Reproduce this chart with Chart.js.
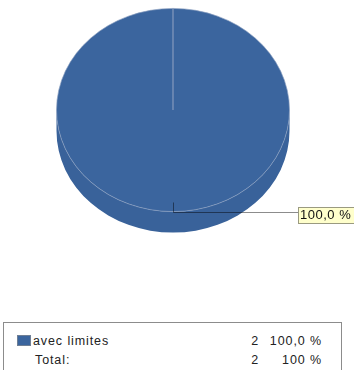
<!DOCTYPE html>
<html lang="fr">
<head>
  <meta charset="UTF-8">
  <title>avec limites</title>
  <script src="https://cdn.jsdelivr.net/npm/chart.js"></script>
  <style>
    body {
      margin: 0;
      background: #ffffff;
      font-family: "Liberation Sans", Arial, sans-serif;
      overflow: hidden;
    }
    .chart-box {
      position: absolute;
      left: 0;
      top: 0;
      width: 354px;
      height: 250px;
    }
    .legend {
      position: absolute;
      left: 3px;
      top: 322px;
      width: 337px;
      height: 70px;
      border: 1px solid #8c8c8c;
      font-size: 12.5px;
      letter-spacing: 0.9px;
      color: #222;
    }
    .row {
      position: absolute;
      left: 0;
      width: 100%;
      height: 16px;
      line-height: 16px;
    }
    .swatch {
      position: absolute;
      left: 13px;
      top: 2px;
      width: 14px;
      height: 11px;
      background: #3b659e;
      border: 1px solid #6f7f95;
      box-sizing: border-box;
    }
    .name { position: absolute; left: 29px; }
    .count { position: absolute; right: 82px; }
    .pct { position: absolute; right: 19px; }
  </style>
</head>
<body>
  <div class="chart-box">
    <canvas id="pie" width="354" height="250"></canvas>
  </div>
  <div class="legend" id="legend"></div>

  <script>
    const categories = ['avec limites'];
    const counts = [2];

    const total = counts.reduce((a, b) => a + b, 0);
    const pieBlue = '#3b659e';
    const sideBlue = '#39629a';

    // flatten the pie into an ellipse and give it some depth
    const squash = 0.872;
    const depth = 21;
    const topY = 110;

    function pctText(v, digits) {
      return (v / total * 100).toFixed(digits).replace('.', ',') + ' %';
    }

    const pie3d = {
      id: 'pie3d',
      beforeDatasetsDraw(chart) {
        const arc = chart.getDatasetMeta(0).data[0];
        const { x, y, outerRadius } = arc.getProps(['x', 'y', 'outerRadius'], true);
        const ctx = chart.ctx;
        const rx = outerRadius, ry = outerRadius * squash;

        // side wall
        ctx.save();
        ctx.fillStyle = sideBlue;
        ctx.beginPath();
        ctx.ellipse(x, topY + depth, rx, ry, 0, 0, Math.PI);
        ctx.lineTo(x - rx, topY);
        ctx.ellipse(x, topY, rx, ry, 0, Math.PI, 0, true);
        ctx.closePath();
        ctx.fill();
        ctx.restore();

        ctx.save();
        ctx.translate(x, topY);
        ctx.scale(1, squash);
        ctx.translate(-x, -y);
      },
      afterDatasetsDraw(chart) {
        const ctx = chart.ctx;
        ctx.restore();

        const meta = chart.getDatasetMeta(0);
        meta.data.forEach((arc, i) => {
          const p = arc.getProps(['x', 'startAngle', 'endAngle', 'outerRadius'], true);
          const mid = (p.startAngle + p.endAngle) / 2;
          const px = p.x + Math.cos(mid) * p.outerRadius;
          const py = Math.round(topY + Math.sin(mid) * p.outerRadius * squash) + 0.5;
          const boxX = 298;

          ctx.save();
          ctx.lineWidth = 1;
          ctx.strokeStyle = 'rgba(0, 0, 0, 0.45)';
          ctx.beginPath();
          ctx.moveTo(Math.round(px) + 0.5, py - 10);
          ctx.lineTo(Math.round(px) + 0.5, py);
          ctx.lineTo(boxX, py);
          ctx.stroke();

          const txt = pctText(counts[i], 1);
          ctx.font = '13px "Liberation Sans", Arial, sans-serif';
          ctx.letterSpacing = '0.5px';
          const w = ctx.measureText(txt).width + 5;
          ctx.fillStyle = '#ffffcc';
          ctx.fillRect(boxX + 0.5, py - 5, w, 16);
          ctx.strokeStyle = '#9a9a80';
          ctx.strokeRect(boxX + 0.5, py - 5, w, 16);
          ctx.fillStyle = '#111';
          ctx.textBaseline = 'middle';
          ctx.fillText(txt, boxX + 2, py + 3);
          ctx.restore();
        });
      }
    };

    new Chart(document.getElementById('pie').getContext('2d'), {
      type: 'pie',
      data: {
        labels: categories,
        datasets: [{
          data: counts,
          backgroundColor: pieBlue,
          borderColor: 'rgba(140, 160, 192, 0.7)',
          borderWidth: 1
        }]
      },
      options: {
        responsive: false,
        animation: false,
        layout: { padding: { left: 56, right: 64, top: 0, bottom: 16 } },
        plugins: {
          legend: { display: false },
          tooltip: { enabled: false }
        }
      },
      plugins: [pie3d]
    });

    // legend table below
    const legend = document.getElementById('legend');
    let html = '';
    categories.forEach((c, i) => {
      html += `<div class="row" style="top:${10 + i * 19}px"><span class="swatch"></span>` +
        `<span class="name">${c}</span><span class="count">${counts[i]}</span>` +
        `<span class="pct">${pctText(counts[i], 1)}</span></div>`;
    });
    const tr = 10 + categories.length * 19;
    html += `<div class="row" style="top:${tr}px"><span class="name" style="left:31px">Total:</span>` +
      `<span class="count">${total}</span><span class="pct">${pctText(total, 0)}</span></div>`;
    legend.innerHTML = html;
  </script>
</body>
</html>
